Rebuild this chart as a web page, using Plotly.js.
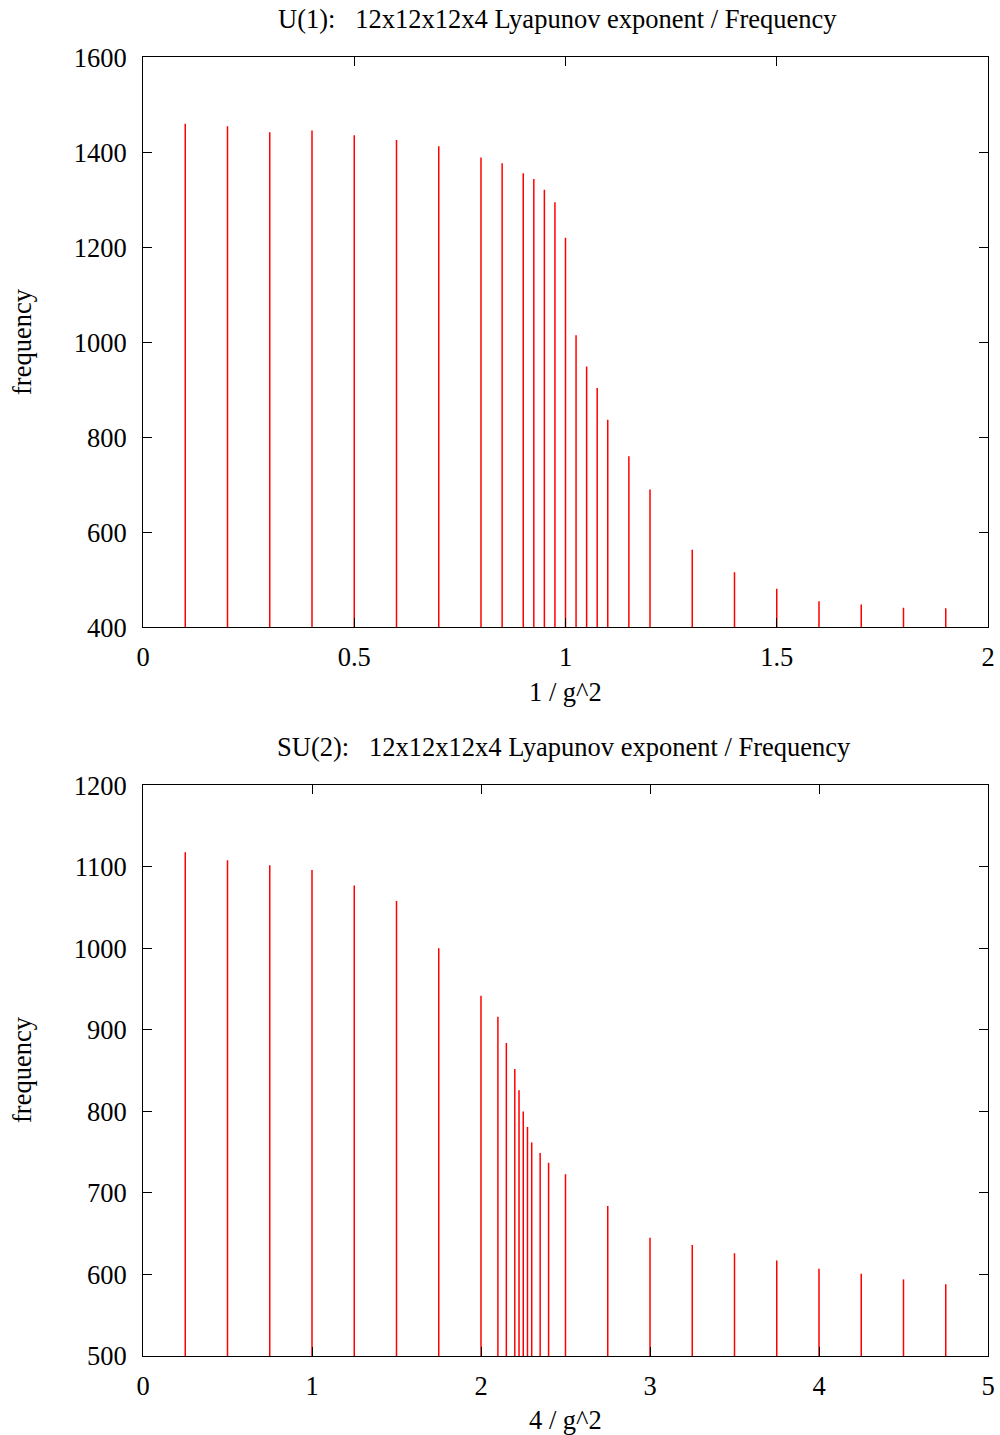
<!DOCTYPE html>
<html>
<head>
<meta charset="utf-8">
<script src="https://cdn.plot.ly/plotly-3.0.1.min.js"></script>
<style>html,body{margin:0;padding:0;background:#fff;}#chart{width:1000px;height:1435px;}</style>
</head>
<body>
<div id="chart"></div>
<script>
// U(1) data
const u1X = [0.1,0.2,0.3,0.4,0.5,0.6,0.7,0.8,0.85,0.9,0.925,0.95,0.975,1.0,1.025,1.05,1.075,1.1,1.15,1.2,1.3,1.4,1.5,1.6,1.7,1.8,1.9];
const u1Y = [1460,1455,1442,1446,1436,1426,1413,1389,1377,1356,1344,1321,1295,1220,1015,949,904,837,760,690,563,516,481,455,448,441,440];
const u1Base = 400;
// SU(2) data
const su2X = [0.25,0.5,0.75,1.0,1.25,1.5,1.75,2.0,2.1,2.15,2.2,2.225,2.25,2.275,2.3,2.35,2.4,2.5,2.75,3.0,3.25,3.5,3.75,4.0,4.25,4.5,4.75];
const su2Y = [1118,1108,1102,1096,1077,1058,1000,942,916,884,852,826,800,781,762,749,737,723,684,645,636,626,617,607,601,594,588];
const su2Base = 500;

const titles = ["U(1):   12x12x12x4 Lyapunov exponent / Frequency", "SU(2):   12x12x12x4 Lyapunov exponent / Frequency"];
const xTitles = ["1 / g^2", "4 / g^2"];
const yTitle = "frequency";

function impulses(xs, ys, base, xa, ya) {
  const X = [], Y = [];
  xs.forEach((x, i) => { X.push(x, x, null); Y.push(base, ys[i], null); });
  return {x: X, y: Y, type: 'scatter', mode: 'lines', xaxis: xa, yaxis: ya,
          line: {color: '#ff0000', width: 1.5}, hoverinfo: 'skip', showlegend: false};
}

const H = 1435, W = 1000;
const font = {family: '"Liberation Serif", "Times New Roman", serif', size: 26.5, color: '#000'};
function py(p) { return 1 - p / H; }
function px(p) { return p / W; }

const axCommon = {showline: true, linecolor: '#000', linewidth: 1, mirror: 'ticks', ticks: 'inside',
  ticklen: 9, tickcolor: '#000', tickwidth: 1, showgrid: false, zeroline: false, tickfont: font, fixedrange: true};

const layout = {
  width: W, height: H, margin: {l: 0, r: 0, t: 0, b: 0}, paper_bgcolor: '#fff', plot_bgcolor: '#fff',
  font: font, showlegend: false,
  xaxis: Object.assign({}, axCommon, {domain: [px(143), px(988)], range: [0, 2], dtick: 0.5, tick0: 0, anchor: 'y', ticklabelstandoff: 6}),
  yaxis: Object.assign({}, axCommon, {domain: [py(627.3), py(57.3)], range: [400, 1600], dtick: 200, tick0: 400, anchor: 'x', ticklabelstandoff: 10}),
  xaxis2: Object.assign({}, axCommon, {domain: [px(143), px(988)], range: [0, 5], dtick: 1, tick0: 0, anchor: 'y2', ticklabelstandoff: 6}),
  yaxis2: Object.assign({}, axCommon, {domain: [py(1356), py(785.3)], range: [500, 1200], dtick: 100, tick0: 500, anchor: 'x2', ticklabelstandoff: 10}),
  annotations: [
    {text: titles[0], xref: 'paper', yref: 'paper', x: px(557), y: py(19), xanchor: 'center', yanchor: 'middle', showarrow: false, font: font},
    {text: titles[1], xref: 'paper', yref: 'paper', x: px(564), y: py(747), xanchor: 'center', yanchor: 'middle', showarrow: false, font: font},
    {text: xTitles[0], xref: 'paper', yref: 'paper', x: px(565), y: py(692), xanchor: 'center', yanchor: 'middle', showarrow: false, font: font},
    {text: xTitles[1], xref: 'paper', yref: 'paper', x: px(565), y: py(1420), xanchor: 'center', yanchor: 'middle', showarrow: false, font: font},
    {text: yTitle, xref: 'paper', yref: 'paper', x: px(22), y: py(342), xanchor: 'center', yanchor: 'middle', textangle: -90, showarrow: false, font: font},
    {text: yTitle, xref: 'paper', yref: 'paper', x: px(22), y: py(1070), xanchor: 'center', yanchor: 'middle', textangle: -90, showarrow: false, font: font}
  ]
};

Plotly.newPlot('chart', [impulses(u1X, u1Y, u1Base, 'x', 'y'), impulses(su2X, su2Y, su2Base, 'x2', 'y2')], layout, {staticPlot: true, displayModeBar: false});
</script>
</body>
</html>
